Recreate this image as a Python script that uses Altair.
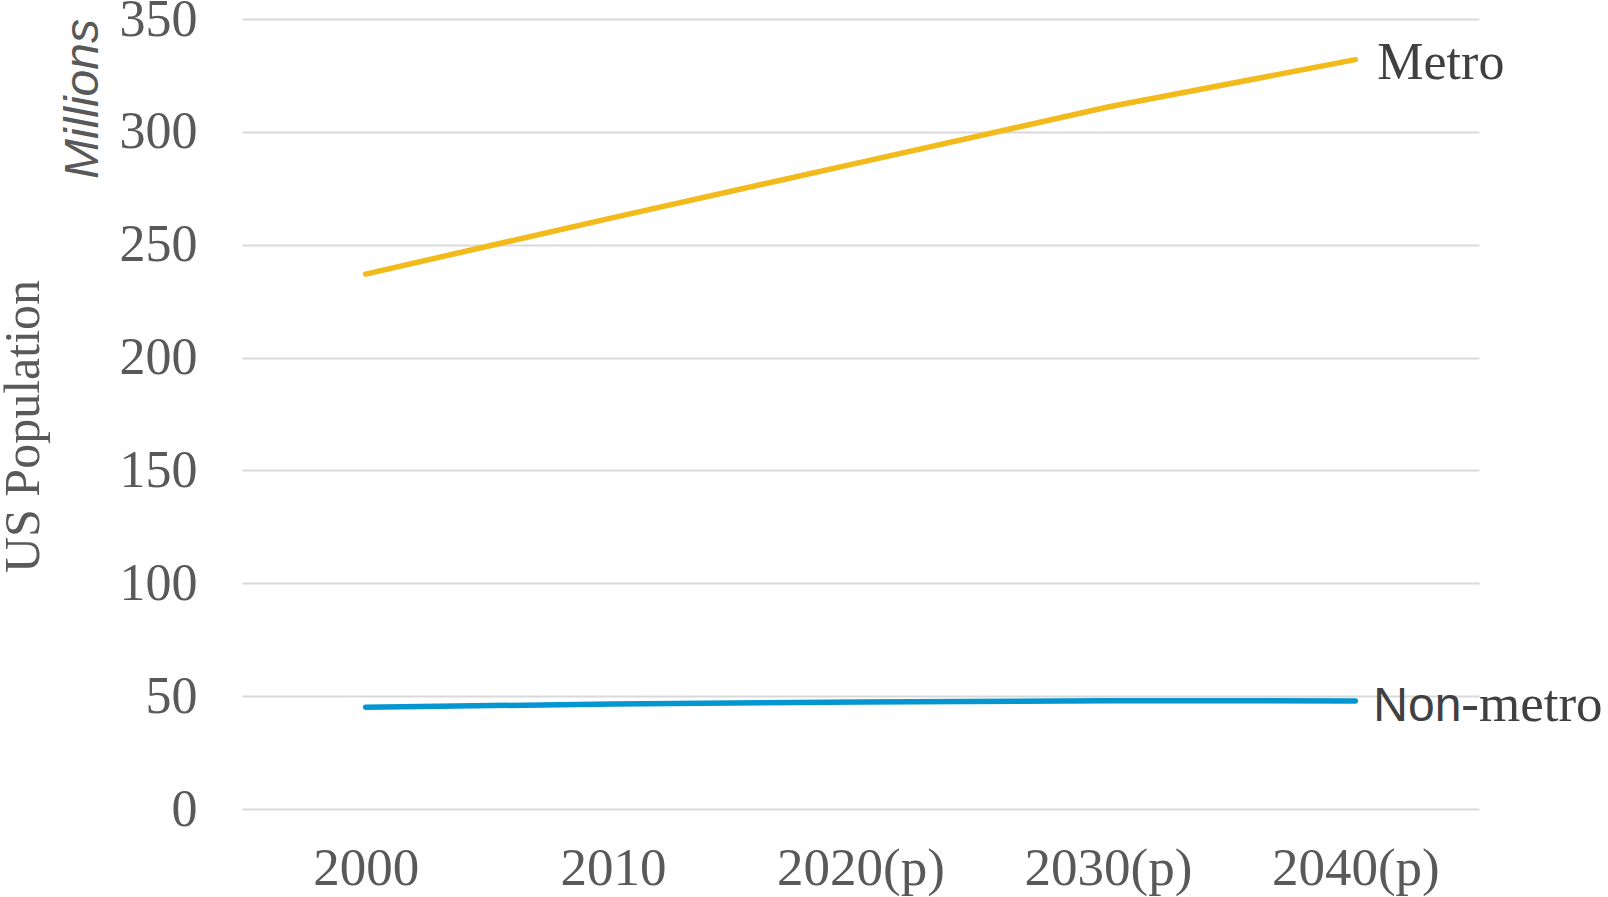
import altair as alt
import pandas as pd

# US population by area type, millions
years = ["2000", "2010", "2020(p)", "2030(p)", "2040(p)"]
metro = [237.0, 262.0, 286.5, 311.0, 332.0]
non_metro = [45.1, 46.5, 47.4, 48.0, 47.9]
y_ticks = [0, 50, 100, 150, 200, 250, 300, 350]

series_names = ["Metro", "Non-metro"]
series_colors = ["#F2BB1B", "#0496D0"]

df = pd.DataFrame(
    {
        "year": years * 2,
        "pop": metro + non_metro,
        "series": ["Metro"] * len(years) + ["Non-metro"] * len(years),
    }
)

SERIF = "Liberation Serif"
SANS = "Liberation Sans"

x_enc = alt.X(
    "year:O",
    sort=years,
    scale=alt.Scale(type="point", padding=0.5),
    axis=alt.Axis(
        title=None,
        labelAngle=0,
        labelFont=SERIF,
        labelFontSize=53,
        labelColor="#595959",
        labelPadding=33,
        domain=False,
        ticks=False,
        grid=False,
    ),
)

y_enc = alt.Y(
    "pop:Q",
    scale=alt.Scale(domain=[0, 350], nice=False),
    axis=alt.Axis(
        values=y_ticks,
        title="US Population",
        titleFont=SERIF,
        titleFontSize=50,
        titleFontWeight="normal",
        titleColor="#595959",
        titleAngle=270,
        titleAlign="center",
        titleBaseline="middle",
        titleX=-219,
        titleY=407,
        labelFont=SERIF,
        labelFontSize=52,
        labelColor="#595959",
        labelPadding=45,
        domain=False,
        ticks=False,
        grid=True,
        gridColor="#D9D9D9",
        gridWidth=2,
    ),
)

color_scale = alt.Scale(domain=series_names, range=series_colors)

lines = (
    alt.Chart(df)
    .mark_line(strokeWidth=5.5, strokeCap="round")
    .encode(
        x=x_enc,
        y=y_enc,
        color=alt.Color("series:N", scale=color_scale, legend=None),
    )
)

last = df[df["year"] == years[-1]]


def end_label(series, text, font, size, dx, dy):
    return (
        alt.Chart(last[last["series"] == series])
        .mark_text(
            text=text,
            font=font,
            fontSize=size,
            color="#404040",
            align="left",
            baseline="alphabetic",
            dx=dx,
            dy=dy,
        )
        .encode(x=x_enc, y=y_enc)
    )


metro_label = end_label("Metro", "Metro", SERIF, 52, 22, 19)
non_label = end_label("Non-metro", "Non", SANS, 48, 18, 20)
metro_suffix = end_label("Non-metro", "-metro", SERIF, 53, 106, 20)

units = (
    alt.Chart(pd.DataFrame({"t": ["Millions"]}))
    .mark_text(
        font=SANS,
        fontSize=48,
        fontStyle="italic",
        color="#595959",
        angle=270,
        align="center",
        baseline="middle",
    )
    .encode(x=alt.value(-158), y=alt.value(80), text="t:N")
)

chart = (
    alt.layer(lines, metro_label, non_label, metro_suffix, units)
    .properties(
        width=1237,
        height=790,
        autosize=alt.AutoSizeParams(type="none"),
        padding={"left": 242, "top": 19, "right": 129, "bottom": 88},
    )
    .configure_view(strokeWidth=0, stroke="transparent")
    .configure(background="white", style={"cell": {"stroke": "transparent", "strokeWidth": 0}})
)

chart.save("out.html", embed_options={"renderer": "svg", "actions": False})
